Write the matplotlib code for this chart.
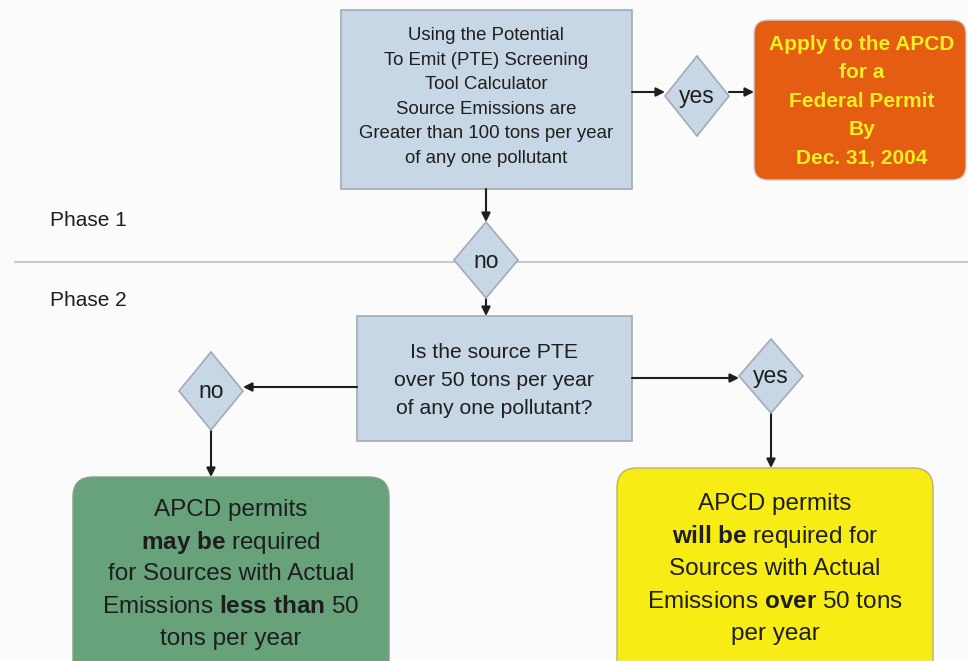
import matplotlib.pyplot as plt
from matplotlib.patches import FancyBboxPatch, Rectangle, Polygon

plt.rcParams['font.family'] = ['Liberation Sans', 'DejaVu Sans']
plt.rcParams['mathtext.fontset'] = 'custom'
plt.rcParams['mathtext.rm'] = 'Liberation Sans'
plt.rcParams['mathtext.bf'] = 'Liberation Sans:bold'
plt.rcParams['mathtext.it'] = 'Liberation Sans:italic'

# texts of the flowchart
phase_labels = ['Phase 1', 'Phase 2']
pte_lines = ['Using the Potential', 'To Emit (PTE) Screening', 'Tool Calculator',
             'Source Emissions are', 'Greater than 100 tons per year',
             'of any one pollutant']
federal_lines = ['Apply to the APCD', 'for a', 'Federal Permit', 'By', 'Dec. 31, 2004']
question_lines = ['Is the source PTE', 'over 50 tons per year', 'of any one pollutant?']
may_lines = ['APCD permits', r'$\mathbf{may\ be}$ required',
             'for Sources with Actual', r'Emissions $\mathbf{less\ than}$ 50',
             'tons per year']
will_lines = ['APCD permits', r'$\mathbf{will\ be}$ required for',
              'Sources with Actual', r'Emissions $\mathbf{over}$ 50 tons',
              'per year']
decisions = ['yes', 'no', 'no', 'yes']

BLUE = '#c8d7e5'
EDGE = '#a2abb3'
ORANGE = '#e45d12'
GOLD = '#f3ef22'
GREEN = '#67a27a'
YELLOW = '#f7ec14'
INK = '#1e1e1e'

fig = plt.figure(figsize=(9.68, 6.61), dpi=100)
fig.patch.set_facecolor('#fbfbfb')
ax = fig.add_axes([0, 0, 1, 1])
ax.set_xlim(0, 968)
ax.set_ylim(661, 0)
ax.axis('off')


def lines(x, y0, step, texts, size, color=INK, weight='normal'):
    for i, t in enumerate(texts):
        ax.text(x, y0 + i * step, t, ha='center', va='center', fontsize=size,
                color=color, fontweight=weight)


def diamond(cx, cy, hw, hh, label):
    ax.add_patch(Polygon([(cx - hw, cy), (cx, cy - hh), (cx + hw, cy), (cx, cy + hh)],
                         closed=True, facecolor=BLUE, edgecolor=EDGE, lw=1.2, zorder=3))
    ax.text(cx, cy + 1, label, ha='center', va='center', fontsize=16.5, color=INK, zorder=4)


def arrow(x0, y0, x1, y1):
    ax.annotate('', xy=(x1, y1), xytext=(x0, y0),
                arrowprops=dict(arrowstyle='-|>', color=INK, lw=1.5,
                                mutation_scale=13, shrinkA=0, shrinkB=0), zorder=2)


# phase separator
ax.plot([15, 968], [262, 262], color='#c4c4c4', lw=1.3, zorder=1)
ax.text(50, 221, phase_labels[0], fontsize=15, va='center', color=INK)
ax.text(50, 300, phase_labels[1], fontsize=15, va='center', color=INK)

# top box
ax.add_patch(Rectangle((341, 10), 291, 179, facecolor=BLUE, edgecolor=EDGE, lw=1.2))
lines(486, 35.5, 24.6, pte_lines, 13.4)

# federal permit box
ax.add_patch(FancyBboxPatch((754, 20), 212, 160, boxstyle='round,pad=0,rounding_size=14',
                            facecolor=ORANGE, edgecolor='#d0d0d0', lw=1))
lines(862, 44, 28.6, federal_lines, 15, color=GOLD, weight='bold')

# question box
ax.add_patch(Rectangle((357, 316), 275, 125, facecolor=BLUE, edgecolor=EDGE, lw=1.2))
lines(494, 352, 28.5, question_lines, 15.2)

# result boxes
ax.add_patch(FancyBboxPatch((73, 477), 316, 210, boxstyle='round,pad=0,rounding_size=20',
                            facecolor=GREEN, edgecolor='#8a9a8e', lw=1))
lines(231, 510, 32.2, may_lines, 17.5)
ax.add_patch(FancyBboxPatch((617, 468), 316, 220, boxstyle='round,pad=0,rounding_size=20',
                            facecolor=YELLOW, edgecolor='#b8b070', lw=1))
lines(775, 504, 32.5, will_lines, 17.5)

# decisions
diamond(697, 96, 32, 40, decisions[0])
diamond(486, 260, 32, 38, decisions[1])
diamond(211, 391, 32, 39, decisions[2])
diamond(771, 376, 32, 37, decisions[3])

# connectors
arrow(632, 92, 665, 92)
arrow(729, 92, 754, 92)
arrow(486, 189, 486, 222)
arrow(486, 298, 486, 316)
arrow(357, 387, 243, 387)
arrow(211, 430, 211, 477)
arrow(632, 378, 739, 378)
arrow(771, 413, 771, 468)

fig.savefig('out.png', dpi=100, facecolor=fig.get_facecolor())
